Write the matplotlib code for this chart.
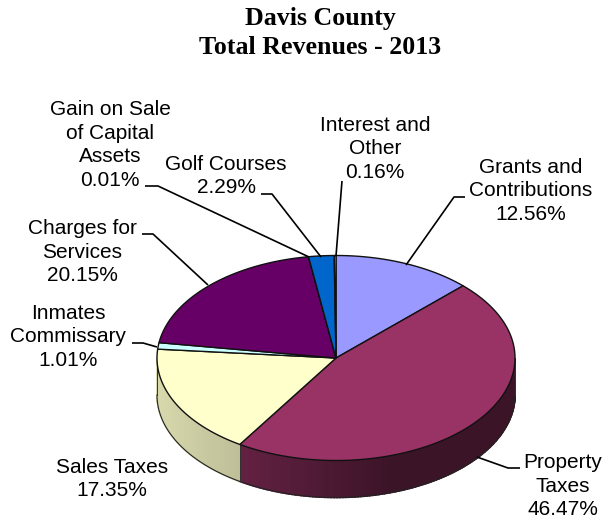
import numpy as np
import matplotlib
matplotlib.use("Agg")
import matplotlib.pyplot as plt
from matplotlib.patches import Polygon
from matplotlib.colors import to_rgb

categories = ["Grants and\nContributions", "Property\nTaxes", "Sales Taxes", "Inmates\nCommissary",
              "Charges for\nServices", "Gain on Sale\nof Capital\nAssets", "Golf Courses", "Interest and\nOther"]
values = [12.56, 46.47, 17.35, 1.01, 20.15, 0.01, 2.29, 0.16]
colors = ["#9999FF", "#993366", "#FFFFCC", "#CCFFFF", "#660066", "#FF8080", "#0066CC", "#CCCCFF"]
title_lines = "Davis County\nTotal Revenues - 2013"

label_pos = [(531, 191), (563, 486), (112, 479), (68, 337), (82, 252), (110, 145), (226, 176), (375, 149)]
leaders = [[(465, 197), (454, 197), (406, 265)],
           [(520, 468), (508, 468), (477, 457)],
           None,
           [(132, 343), (143, 343), (157, 347)],
           [(142, 234), (153, 234), (208, 285)],
           [(145, 186), (158, 186), (309, 257)],
           [(261, 194), (272, 194), (321, 257)],
           [(342, 181), (336, 256)]]

CX, CY, RX, RY, DEPTH = 336, 358, 179, 102.5, 37

fig = plt.figure(figsize=(6.03, 5.2), dpi=100)
ax = fig.add_axes([0, 0, 1, 1])
ax.set_xlim(0, 603)
ax.set_ylim(520, 0)
ax.axis("off")

def pt(t, dy=0):
    return CX + RX * np.sin(t), CY - RY * np.cos(t) + dy

edges = np.radians(np.concatenate([[0], np.cumsum(values)]) * 3.6)

# side wall, visible for the front half of the ellipse (90..270 degrees)
for i, c in enumerate(colors):
    a0, b0 = max(edges[i], np.pi / 2), min(edges[i + 1], 3 * np.pi / 2)
    if b0 <= a0:
        continue
    ts = np.linspace(a0, b0, max(2, int((b0 - a0) * 60)))
    base = np.array(to_rgb(c))
    for t0, t1 in zip(ts[:-1], ts[1:]):
        x0 = np.sin((t0 + t1) / 2)
        shade = max(0.39, 0.483 - 0.31 * x0) if c == "#993366" else 0.62 - 0.23 * x0
        x = [pt(t0)[0], pt(t1)[0], pt(t1, DEPTH)[0], pt(t0, DEPTH)[0]]
        y = [pt(t0)[1], pt(t1)[1], pt(t1, DEPTH)[1], pt(t0, DEPTH)[1]]
        col = base * shade
        ax.add_patch(Polygon(np.c_[x, y], closed=True, fc=col, ec=col, lw=1.2, zorder=2))
    tt = np.linspace(a0, b0, 100)
    ax.plot(*pt(tt, DEPTH), color="#222222", lw=0.8, zorder=3)
    for e in (a0, b0):
        ax.plot(*zip(pt(e), pt(e, DEPTH)), color="#333333", lw=0.7, zorder=3)

# top face
for i, c in enumerate(colors):
    ts = np.linspace(edges[i], edges[i + 1], max(3, int((edges[i + 1] - edges[i]) * 60)))
    xs, ys = pt(ts)
    verts = np.c_[np.r_[CX, xs], np.r_[CY, ys]]
    ax.add_patch(Polygon(verts, closed=True, fc=c, ec="#111111", lw=1.0, joinstyle="round", zorder=4))

# leader lines
for seg in leaders:
    if seg:
        ax.plot(*zip(*seg), color="black", lw=1.2, zorder=5, solid_capstyle="butt")

# labels
for name, v, (x, y) in zip(categories, values, label_pos):
    ax.text(x, y, f"{name}\n{v:.2f}%", ha="center", va="center", fontsize=15,
            family="Liberation Sans", linespacing=1.32, color="black", zorder=6)

ax.text(320, 33, title_lines, ha="center", va="center", fontsize=18.6, fontweight="bold",
        family="Liberation Serif", linespacing=1.38, color="black")

fig.savefig("out.png", dpi=100)
